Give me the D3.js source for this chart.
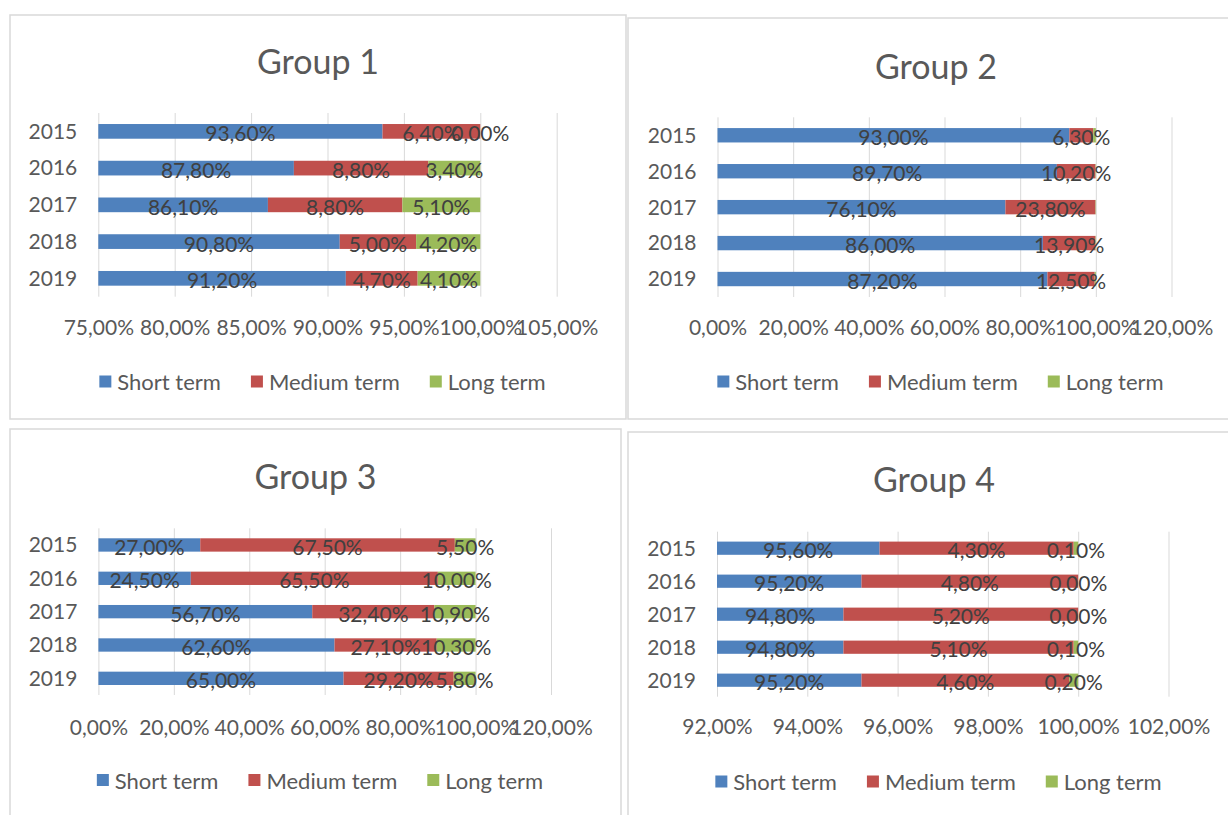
<!DOCTYPE html>
<html>
<head>
<meta charset="utf-8">
<script src="https://cdn.jsdelivr.net/npm/d3@7"></script>
<style>
  body { margin: 0; background: #fff; }
  svg text { font-family: Lato, "Open Sans", sans-serif; }
</style>
</head>
<body>
<svg id="chart" width="1228" height="815"></svg>
<script>
// data (values in percent)
const years = ["2015", "2016", "2017", "2018", "2019"];
const seriesNames = ["Short term", "Medium term", "Long term"];
const colors = ["#4F81BD", "#C0504D", "#9BBB59"];

const group1Short = [93.6, 87.8, 86.1, 90.8, 91.2];
const group1Medium = [6.4, 8.8, 8.8, 5.0, 4.7];
const group1Long = [0.0, 3.4, 5.1, 4.2, 4.1];

const group2Short = [93.0, 89.7, 76.1, 86.0, 87.2];
const group2Medium = [6.3, 10.2, 23.8, 13.9, 12.5];
const group2Long = [0.7, 0.1, 0.1, 0.1, 0.3];

const group3Short = [27.0, 24.5, 56.7, 62.6, 65.0];
const group3Medium = [67.5, 65.5, 32.4, 27.1, 29.2];
const group3Long = [5.5, 10.0, 10.9, 10.3, 5.8];

const group4Short = [95.6, 95.2, 94.8, 94.8, 95.2];
const group4Medium = [4.3, 4.8, 5.2, 5.1, 4.6];
const group4Long = [0.1, 0.0, 0.0, 0.1, 0.2];

const group1Ticks = [75, 80, 85, 90, 95, 100, 105];
const group2Ticks = [0, 20, 40, 60, 80, 100, 120];
const group3Ticks = [0, 20, 40, 60, 80, 100, 120];
const group4Ticks = [92, 94, 96, 98, 100, 102];

// comma decimal like the original
const locale = d3.formatLocale({ decimal: ",", thousands: ".", grouping: [3], currency: ["", ""] });
const fmt = v => locale.format(".2f")(v) + "%";

const panels = [
  { title: "Group 1", series: [group1Short, group1Medium, group1Long], ticks: group1Ticks, showLabels: [true, true, true],
    box: [10, 15, 616, 404], plot: [98.3, 113, 556.7, 296.7], titleY: 60, tickY: 328, legendY: 381.5 },
  { title: "Group 2", series: [group2Short, group2Medium, group2Long], ticks: group2Ticks, showLabels: [true, true, false],
    box: [628, 18, 616, 401], plot: [717.5, 117.3, 1171.5, 297], titleY: 65, tickY: 328, legendY: 381.5 },
  { title: "Group 3", series: [group3Short, group3Medium, group3Long], ticks: group3Ticks, showLabels: [true, true, true],
    box: [10, 429, 611, 400], plot: [98.4, 528.3, 551, 695], titleY: 475, tickY: 728, legendY: 780 },
  { title: "Group 4", series: [group4Short, group4Medium, group4Long], ticks: group4Ticks, showLabels: [true, true, true],
    box: [628, 432, 612, 400], plot: [717, 531.7, 1168.5, 696.7], titleY: 478, tickY: 727, legendY: 781.5 }
];

const svg = d3.select("#chart");
svg.append("rect").attr("width", 1228).attr("height", 815).attr("fill", "#fff");

panels.forEach(p => {
  const g = svg.append("g");
  const [bx, by, bw, bh] = p.box;
  const [x0, y0, x1, y1] = p.plot;

  g.append("rect")
    .attr("x", bx).attr("y", by).attr("width", bw).attr("height", bh)
    .attr("fill", "#fff").attr("stroke", "#D9D9D9").attr("stroke-width", 1.5);

  g.append("text")
    .attr("x", bx + bw / 2).attr("y", p.titleY)
    .attr("text-anchor", "middle").attr("dominant-baseline", "central")
    .attr("fill", "#595959").style("font-size", "34px")
    .text(p.title);

  const x = d3.scaleLinear()
    .domain([p.ticks[0], p.ticks[p.ticks.length - 1]])
    .range([x0, x1]);

  const y = d3.scaleBand()
    .domain(years)
    .range([y0, y1])
    .paddingInner(0.6)
    .paddingOuter(0.3);

  // gridlines + tick labels
  const xAxis = g.append("g")
    .attr("transform", `translate(0,${y1})`)
    .call(d3.axisBottom(x).tickValues(p.ticks).tickSize(-(y1 - y0)).tickFormat(fmt));
  xAxis.select(".domain").remove();
  xAxis.selectAll("line").attr("stroke", "#D9D9D9");
  xAxis.selectAll("text")
    .attr("y", p.tickY - y1).attr("dy", "0.35em")
    .attr("fill", "#595959").style("font-size", "21px");

  const yAxis = g.append("g")
    .attr("transform", `translate(${x0},0)`)
    .call(d3.axisLeft(y).tickSize(0).tickPadding(21));
  yAxis.select(".domain").remove();
  yAxis.selectAll("text")
    .attr("dy", "0.35em")
    .attr("fill", "#595959").style("font-size", "21px");

  // stacked segments, clipped at the axis minimum like Excel
  const minV = x.domain()[0];
  const segs = [];
  years.forEach((yr, i) => {
    let acc = 0;
    p.series.forEach((s, k) => {
      const start = acc, end = acc + s[i];
      acc = end;
      segs.push({ year: yr, k: k, v: s[i], a: Math.max(start, minV), b: Math.max(end, minV) });
    });
  });

  g.selectAll(".bar")
    .data(segs)
    .enter().append("rect")
    .attr("class", "bar")
    .attr("x", d => x(d.a))
    .attr("y", d => y(d.year))
    .attr("width", d => Math.max(0, x(d.b) - x(d.a)))
    .attr("height", y.bandwidth())
    .attr("fill", d => colors[d.k]);

  g.selectAll(".lbl")
    .data(segs.filter(d => p.showLabels[d.k]))
    .enter().append("text")
    .attr("class", "lbl")
    .attr("x", d => (x(d.a) + x(d.b)) / 2)
    .attr("y", d => y(d.year) + y.bandwidth() / 2 + 1.5)
    .attr("text-anchor", "middle").attr("dominant-baseline", "central")
    .attr("fill", "#404040").style("font-size", "21px")
    .text(d => fmt(d.v));

  // legend centred under the panel
  const leg = g.append("g");
  let cx = 0;
  seriesNames.forEach((name, k) => {
    const item = leg.append("g").attr("transform", `translate(${cx},0)`);
    item.append("rect")
      .attr("x", 0).attr("y", p.legendY - 6).attr("width", 12).attr("height", 12)
      .attr("fill", colors[k]);
    const t = item.append("text")
      .attr("x", 18).attr("y", p.legendY)
      .attr("dominant-baseline", "central")
      .attr("fill", "#595959").style("font-size", "22px")
      .text(name);
    cx += 18 + t.node().getComputedTextLength() + 30;
  });
  const legW = cx - 30;
  leg.attr("transform", `translate(${bx + bw / 2 + 4.5 - legW / 2},0)`);
});
</script>
</body>
</html>
